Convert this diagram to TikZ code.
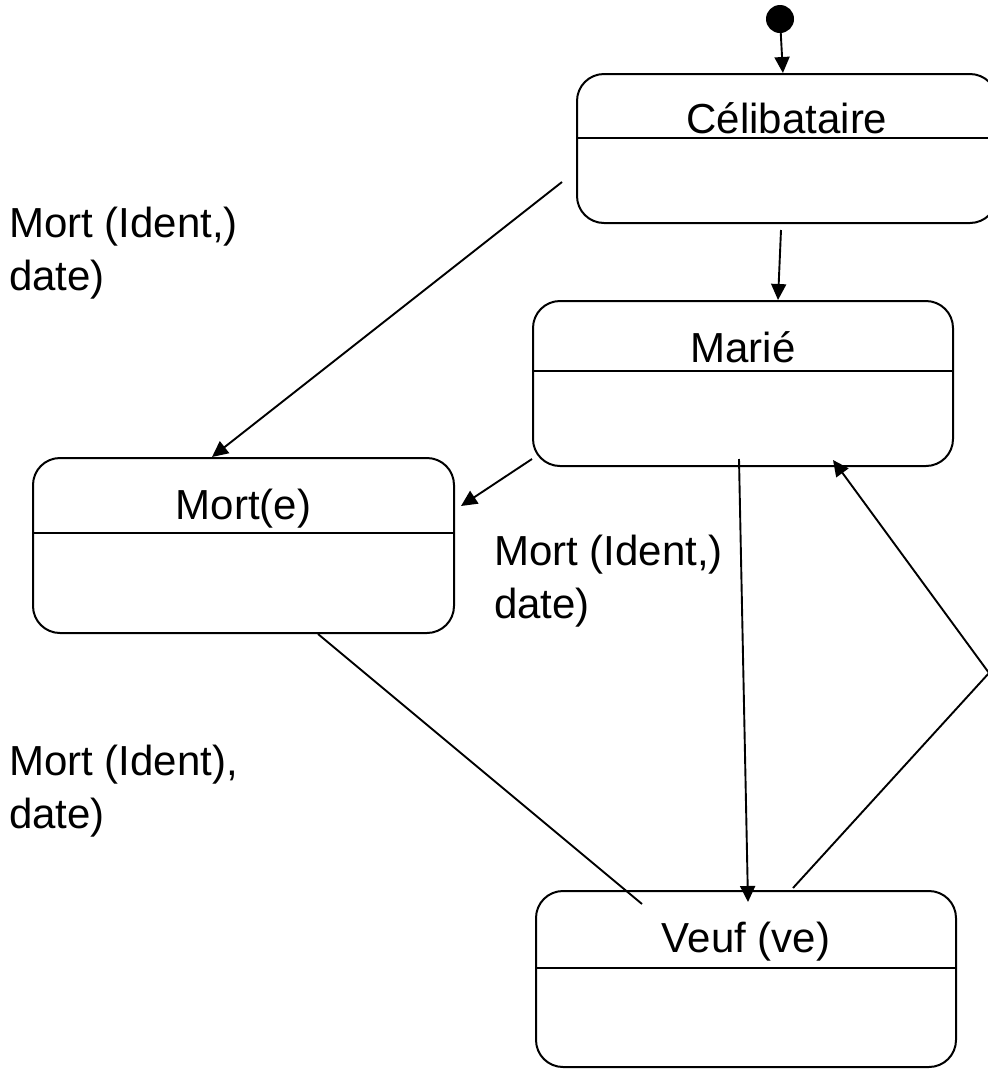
\documentclass[tikz,border=0pt]{standalone}
\usepackage{fontspec}
\setmainfont{Liberation Sans}
\usetikzlibrary{arrows.meta}
\begin{document}
\begin{tikzpicture}[x=1pt,y=-1pt,
  statebox/.style={draw, line width=2pt, rectangle, rounded corners=27pt, inner sep=0pt},
  title/.style={anchor=base, inner sep=0pt, font=\fontsize{42}{53}\selectfont},
  guard/.style={anchor=base west, inner sep=0pt, font=\fontsize{42}{53}\selectfont},
  divider/.style={line width=2pt},
  flow/.style={line width=1.9pt, -{Triangle[length=16pt,width=15pt]}},
  plainflow/.style={line width=1.9pt},
  initial/.style={circle, fill=black, minimum size=28pt, inner sep=0pt}]

\clip (0,0) rectangle (988,1069);

% initial pseudo-state
\node[initial] (init) at (780,19) {};

% states
\node[statebox, minimum width=420pt, minimum height=149pt] (celib) at (787,148.5) {};
\node[title] (celibT) at (787,133) {Célibataire};
\draw[divider] ([yshift=-65pt]celib.north west) -- ([yshift=-65pt]celib.north east);

\node[statebox, minimum width=420pt, minimum height=165pt] (marie) at (743,383.5) {};
\node[title] (marieT) at (743,362) {Marié};
\draw[divider] ([yshift=-71pt]marie.north west) -- ([yshift=-71pt]marie.north east);

\node[statebox, minimum width=421pt, minimum height=175pt] (mort) at (243.5,545.5) {};
\node[title] (mortT) at (243.5,519) {Mort(e)};
\draw[divider] ([yshift=-76pt]mort.north west) -- ([yshift=-76pt]mort.north east);

\node[statebox, minimum width=420pt, minimum height=176pt] (veuf) at (746,979) {};
\node[title] (veufT) at (746,952) {Veuf (ve)};
\draw[divider] ([yshift=-78pt]veuf.north west) -- ([yshift=-78pt]veuf.north east);

% transitions
\draw[flow] (init) -- (celib);
\draw[flow] ([xshift=-6pt,yshift=-6pt]celib.south) -- ([xshift=35pt]marie.north);
\draw[flow] ([xshift=-14pt,yshift=-33.5pt]celib.west) -- ([xshift=-31.5pt]mort.north);
\draw[flow] ([yshift=8pt]marie.south west) -- ([xshift=6pt,yshift=39.5pt]mort.east);
\draw[flow] ([xshift=-4pt,yshift=8pt]marie.south) -- ([xshift=2pt,yshift=-12pt]veuf.north);
\draw[plainflow] ([xshift=74.5pt]mort.south) -- ([xshift=-104pt,yshift=-14pt]veuf.north);
\coordinate (bend) at (989,673);
\draw[flow] ([xshift=47pt,yshift=2pt]veuf.north) -- (bend) -- ([xshift=90pt,yshift=7pt]marie.south);

% guards
\node[guard] (g1) at (9,237) {\begin{tabular}[t]{@{}l@{}}Mort (Ident,)\\date)\end{tabular}};
\node[guard] (g2) at (494,565) {\begin{tabular}[t]{@{}l@{}}Mort (Ident,)\\date)\end{tabular}};
\node[guard] (g3) at (9,775) {\begin{tabular}[t]{@{}l@{}}Mort (Ident),\\date)\end{tabular}};
\end{tikzpicture}
\end{document}
